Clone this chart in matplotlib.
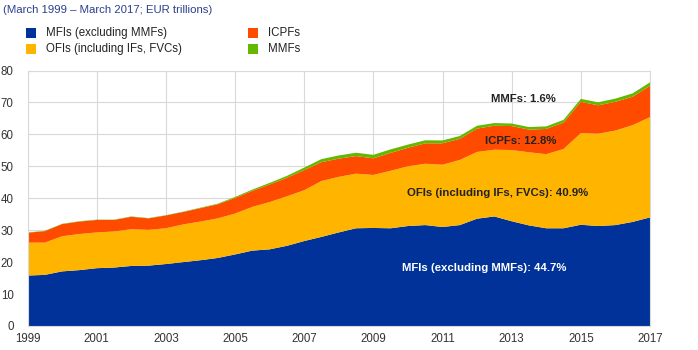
import numpy as np
import matplotlib
matplotlib.use("Agg")
import matplotlib.pyplot as plt
from matplotlib.patches import Rectangle

plt.rcParams['font.family'] = ['Liberation Sans', 'DejaVu Sans']

# half-yearly observations, March 1999 - March 2017 (EUR trillions)
years = [1999.0 + 0.5 * i for i in range(37)]
mfi = [15.8, 16.0, 17.1, 17.5, 18.1, 18.3, 18.8, 18.9, 19.4, 20.0, 20.6, 21.3,
       22.4, 23.6, 24.0, 25.1, 26.6, 27.9, 29.3, 30.6, 30.7, 30.6, 31.3, 31.6,
       31.0, 31.6, 33.6, 34.3, 32.8, 31.5, 30.6, 30.6, 31.7, 31.3, 31.6, 32.6, 34.0]
ofi = [10.3, 10.1, 11.0, 11.3, 11.2, 11.3, 11.5, 11.2, 11.2, 11.8, 12.1, 12.4,
       12.8, 13.7, 14.8, 15.5, 15.9, 17.5, 17.4, 17.1, 16.6, 18.0, 18.7, 19.2,
       19.5, 20.4, 20.9, 20.9, 22.3, 22.9, 23.2, 24.8, 28.7, 28.9, 29.6, 30.3, 31.4]
icpf = [3.1, 3.6, 3.8, 3.9, 3.9, 3.6, 3.9, 3.6, 4.0, 3.9, 4.2, 4.4,
        4.9, 5.0, 5.5, 5.8, 6.3, 5.9, 5.7, 5.5, 5.2, 5.6, 5.8, 6.4,
        6.7, 6.6, 7.3, 7.5, 7.5, 7.1, 7.9, 8.3, 9.8, 8.9, 9.0, 8.9, 9.8]
mmf = [0.1, 0.1, 0.1, 0.1, 0.1, 0.1, 0.1, 0.1, 0.1, 0.1, 0.15, 0.2,
       0.3, 0.4, 0.5, 0.6, 0.8, 0.95, 1.0, 1.05, 1.1, 1.1, 1.0, 0.95,
       0.9, 0.9, 0.9, 0.85, 0.8, 0.8, 0.8, 0.85, 0.9, 0.95, 1.0, 1.05, 1.1]

series_labels = ["MFIs (excluding MMFs)", "OFIs (including IFs, FVCs)", "ICPFs", "MMFs"]
colors = ["#003299", "#FFB400", "#FF4B00", "#65B800"]
xticks = list(range(1999, 2018, 2))

fig = plt.figure(figsize=(6.98, 3.5), dpi=100)
ax = fig.add_axes([27.5 / 698, 24 / 350, (650 - 27.5) / 698, (326 - 70.5) / 350])

ax.stackplot(years, mfi, ofi, icpf, mmf, colors=colors, linewidth=0, zorder=2)

ax.set_xlim(1999, 2017)
ax.set_ylim(0, 80)
ax.set_xticks(xticks)
ax.set_yticks(range(0, 81, 10))
ax.grid(True, color="#D9D9D9", linewidth=0.8, zorder=0)
ax.set_axisbelow(True)
for s in ax.spines.values():
    s.set_color("#D9D9D9")
    s.set_linewidth(0.8)
ax.tick_params(length=0, labelsize=8.3, colors="#333333")
ax.tick_params(axis='y', pad=10)
ax.tick_params(axis='x', pad=5)

# annotations
ax.text(2013.35, 71.1, "MMFs: 1.6%", ha="center", va="center", fontsize=8.2,
        fontweight="bold", color="#222222", zorder=3)
ax.text(2013.25, 58.0, "ICPFs: 12.8%", ha="center", va="center", fontsize=8.2,
        fontweight="bold", color="#222222", zorder=3)
ax.text(2012.6, 41.8, "OFIs (including IFs, FVCs): 40.9%", ha="center", va="center",
        fontsize=8.2, fontweight="bold", color="#222222", zorder=3)
ax.text(2012.2, 18.1, "MFIs (excluding MMFs): 44.7%", ha="center", va="center",
        fontsize=8.2, fontweight="bold", color="white", zorder=3)

# title
fig.text(3 / 698, 1 - 10 / 350, "(March 1999 \u2013 March 2017; EUR trillions)",
         ha="left", va="center", fontsize=8.2, color="#2B3F8C")

# legend
legend_pos = [(26, 33), (26, 49), (248, 33), (248, 49)]
for (px, py), lab, c in zip(legend_pos, series_labels, colors):
    fig.patches.append(Rectangle((px / 698, 1 - (py + 5) / 350), 10 / 698, 10 / 350,
                                 transform=fig.transFigure, facecolor=c,
                                 edgecolor="none"))
    fig.text((px + 20) / 698, 1 - py / 350, lab, ha="left", va="center",
             fontsize=8.3, color="#222222")

fig.savefig("out.png", dpi=100)
